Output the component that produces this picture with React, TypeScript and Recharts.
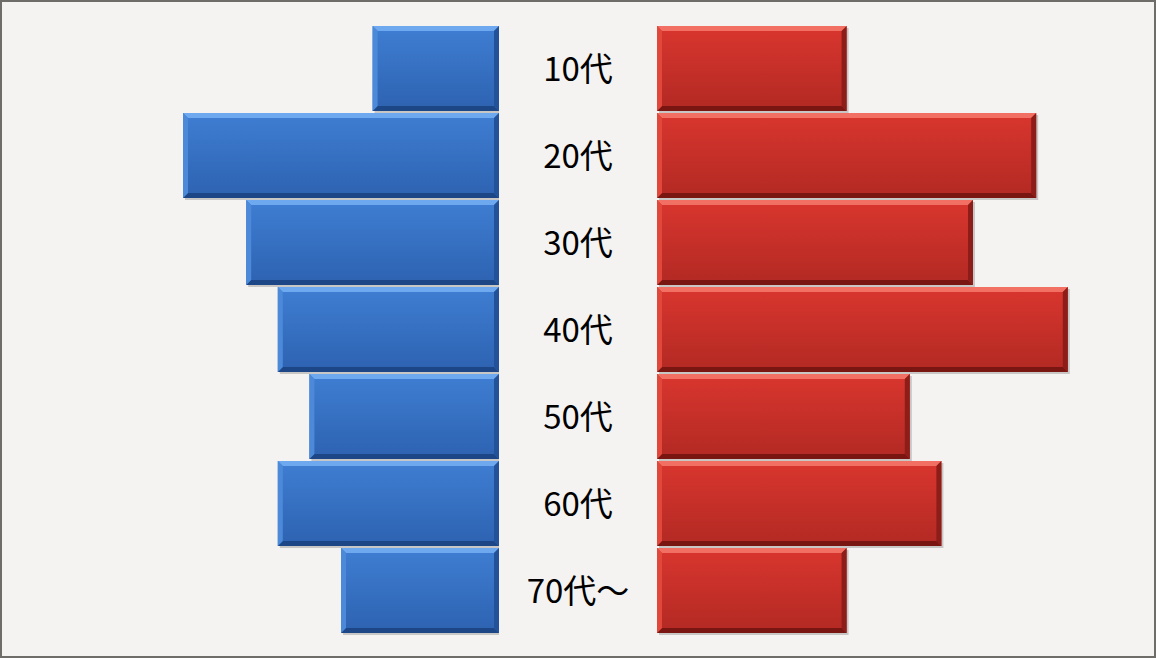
import React from "react";
import { BarChart, Bar, XAxis, YAxis } from "recharts";

const categories = ["10代", "20代", "30代", "40代", "50代", "60代", "70代～"];
const leftValues = [4, 10, 8, 7, 6, 7, 5];
const rightValues = [6, 12, 10, 13, 8, 9, 6];

const data = categories.map((c, i) => ({ cat: c, left: leftValues[i], right: rightValues[i] }));

type Pal = { top: string; main1: string; main2: string; bottom: string; left: string; right: string; id: string };

const bluePal: Pal = { id: "gb", top: "#6ea8ee", main1: "#3f7ed3", main2: "#2d62b0", bottom: "#1c4686", left: "#4c8ad9", right: "#22539a" };
const redPal: Pal = { id: "gr", top: "#f27063", main1: "#d9362e", main2: "#b22923", bottom: "#7a1612", left: "#e2473c", right: "#8c1d18" };

const makeShape = (p: Pal) => (props: any) => {
  let { x, y, width, height } = props;
  if (width == null || height == null) return null;
  if (width < 0) { x += width; width = -width; }
  if (height < 0) { y += height; height = -height; }
  if (width <= 0) return null;
  const b = Math.min(5, width / 2, height / 2);
  return (
    <g>
      <rect x={x + 2} y={y + 2} width={width} height={height} fill="#000" opacity={0.18} />
      <rect x={x} y={y} width={width} height={height} fill={`url(#${p.id})`} />
      <polygon points={`${x},${y} ${x + width},${y} ${x + width - b},${y + b} ${x + b},${y + b}`} fill={p.top} />
      <polygon points={`${x},${y + height} ${x + width},${y + height} ${x + width - b},${y + height - b} ${x + b},${y + height - b}`} fill={p.bottom} />
      <polygon points={`${x},${y} ${x + b},${y + b} ${x + b},${y + height - b} ${x},${y + height}`} fill={p.left} />
      <polygon points={`${x + width},${y} ${x + width - b},${y + b} ${x + width - b},${y + height - b} ${x + width},${y + height}`} fill={p.right} />
    </g>
  );
};

const Grad = ({ p }: { p: Pal }) => (
  <defs>
    <linearGradient id={p.id} x1="0" y1="0" x2="0" y2="1">
      <stop offset="0%" stopColor={p.main1} />
      <stop offset="100%" stopColor={p.main2} />
    </linearGradient>
  </defs>
);

const CenterTick = (props: any) => {
  const { y, payload } = props;
  return (
    <text x={80} y={y} dy={-2} textAnchor="middle" dominantBaseline="central" fontSize={33} fill="#000"
      fontFamily="'Noto Sans CJK JP', 'Noto Sans', sans-serif">
      {payload.value}
    </text>
  );
};

export default function App() {
  const H = 658;
  const margin = { top: 25, bottom: 24, left: 0, right: 0 };
  return (
    <div style={{ position: "absolute", left: 0, top: 0, width: 1156, height: 658, background: "#f4f3f2", boxSizing: "border-box", border: "2px solid #6f6d6a", overflow: "hidden" }}>
      <div style={{ position: "absolute", left: 23, top: -2 }}>
        <BarChart width={474} height={H} data={data} layout="vertical" margin={margin} barCategoryGap={1}>
          <Grad p={bluePal} />
          <XAxis type="number" domain={[0, 15]} reversed hide />
          <YAxis type="category" dataKey="cat" hide />
          <Bar dataKey="left" isAnimationActive={false} shape={makeShape(bluePal)} />
        </BarChart>
      </div>
      <div style={{ position: "absolute", left: 496, top: -2 }}>
        <BarChart width={633} height={H} data={data} layout="vertical" margin={margin} barCategoryGap={1}>
          <Grad p={redPal} />
          <XAxis type="number" domain={[0, 15]} hide />
          <YAxis type="category" dataKey="cat" width={159} axisLine={false} tickLine={false} tick={<CenterTick />} interval={0} />
          <Bar dataKey="right" isAnimationActive={false} shape={makeShape(redPal)} />
        </BarChart>
      </div>
    </div>
  );
}
